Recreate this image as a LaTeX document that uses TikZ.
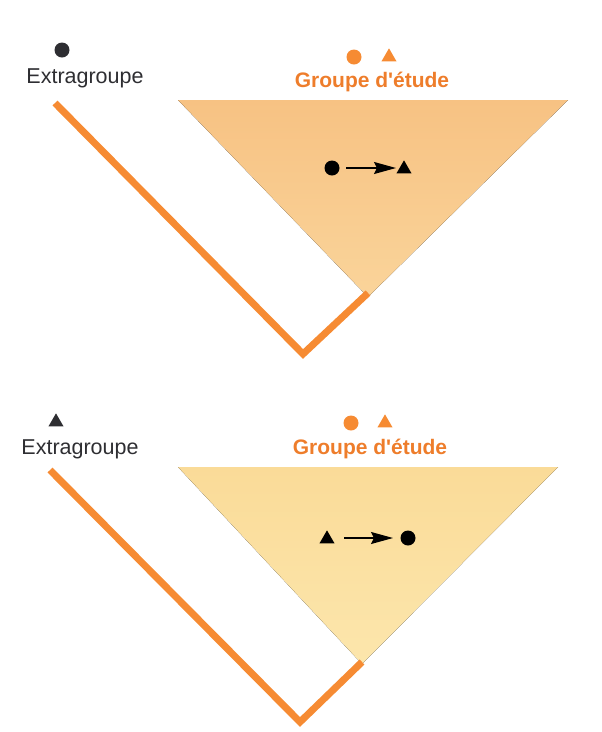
\documentclass[tikz,border=0pt]{standalone}
\usepackage{fontspec}
\setmainfont{Liberation Sans}
\usetikzlibrary{arrows.meta,shapes.geometric}
\definecolor{lineor}{HTML}{F68B33}
\definecolor{textor}{HTML}{EE7D2B}
\definecolor{darkt}{HTML}{2E2E32}
\definecolor{fillA}{HTML}{F7C283}
\definecolor{fillB}{HTML}{FAD49A}
\definecolor{fillC}{HTML}{FADB98}
\definecolor{fillD}{HTML}{FCE6AC}
\tikzset{
  branch/.style={draw=lineor,line width=7pt,line join=miter},
  dotmark/.style={circle,fill=#1,minimum size=15pt,inner sep=0pt},
  trimark/.style={isosceles triangle,isosceles triangle apex angle=60,shape border rotate=90,fill=#1,minimum height=13pt,inner sep=0pt},
  outlab/.style={text=darkt,font=\fontsize{21.5}{24}\selectfont},
  grouplab/.style={text=textor,font=\bfseries\fontsize{21}{24}\selectfont},
  evo/.style={-{Stealth[length=22pt,width=12pt,inset=3pt]},line width=1.3pt,draw=black}
}
\begin{document}
\begin{tikzpicture}[x=1pt,y=-1pt]
\useasboundingbox (0,0) rectangle (602,732);
% ---------- top diagram ----------
\fill[top color=fillA,bottom color=fillB] (178,100) -- (568,100) -- (368,297) -- cycle;
\coordinate (t1) at (55,103);
\coordinate (v1) at (303,354);
\coordinate (a1) at (368,293);
\draw[branch] (t1) -- (v1) -- (a1);
\node[dotmark=darkt] (og1) at (62,50) {};
\node[outlab] (ol1) at (85,78) {Extragroupe};
\node[dotmark=lineor] (gc1) at (354,57) {};
\node[trimark=lineor] (gt1) at (389,57) {};
\node[grouplab] (gl1) at (372,82) {Groupe d\textquotesingle étude};
\node[dotmark=black] (s1) at (332,168) {};
\node[trimark=black] (e1) at (404,169) {};
\coordinate (s1a) at (346,168);
\coordinate (e1a) at (396,168);
\draw[evo] (s1a) -- (e1a);
% ---------- bottom diagram ----------
\fill[top color=fillC,bottom color=fillD] (178,467) -- (558,467) -- (362,664) -- cycle;
\coordinate (t2) at (50,470);
\coordinate (v2) at (300,722);
\coordinate (a2) at (362,662);
\draw[branch] (t2) -- (v2) -- (a2);
\node[trimark=darkt] (og2) at (56,422) {};
\node[outlab] (ol2) at (80,449) {Extragroupe};
\node[dotmark=lineor] (gc2) at (351,423) {};
\node[trimark=lineor] (gt2) at (385,423) {};
\node[grouplab] (gl2) at (370,449) {Groupe d\textquotesingle étude};
\node[trimark=black] (s2) at (327,539) {};
\node[dotmark=black] (e2) at (408,538) {};
\coordinate (s2a) at (344,538);
\coordinate (e2a) at (393,538);
\draw[evo] (s2a) -- (e2a);
\end{tikzpicture}
\end{document}
